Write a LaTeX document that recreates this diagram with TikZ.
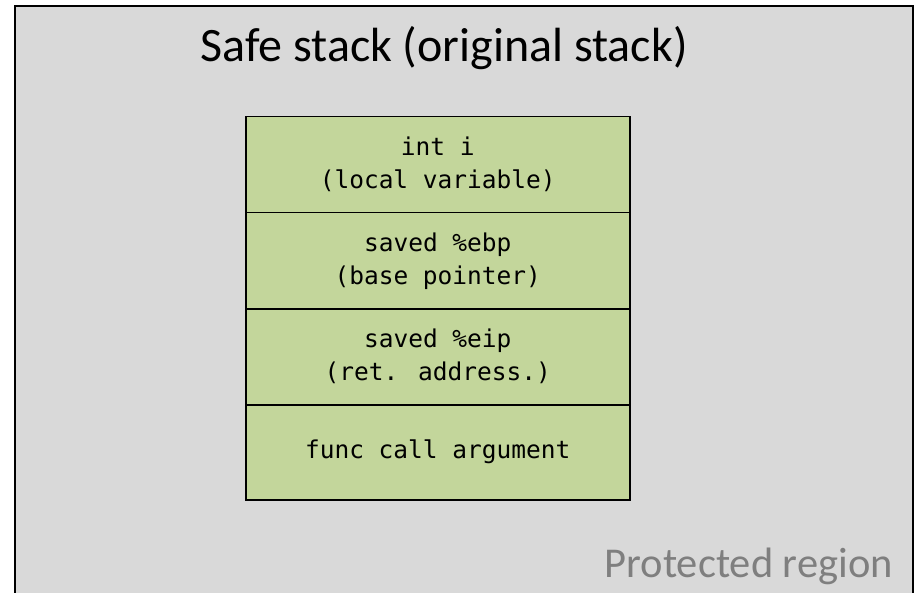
\documentclass[tikz,border=0pt]{standalone}
\usepackage{fontspec}
\setmainfont{Carlito}
\newfontfamily\monofont{DejaVu Sans Mono}
\definecolor{bggray}{HTML}{D9D9D9}
\definecolor{cellgreen}{HTML}{C3D69B}
\definecolor{labelgray}{HTML}{7F7F7F}
\begin{document}
\begin{tikzpicture}[x=1pt,y=-1pt,
  cell/.style={draw=black, line width=1.5pt, fill=cellgreen, minimum width=384pt, minimum height=96pt, inner sep=0pt, align=center, font=\monofont\fontsize{24.5}{33}\selectfont, anchor=north west}]
\useasboundingbox (0,0) rectangle (917,593);
\begin{scope}
\clip (0,0) rectangle (917,593);
\draw[fill=bggray, line width=2pt] (15,6) rectangle (913,620);
\end{scope}
\node[anchor=base, inner sep=0pt] (title) at (444,62) {\fontsize{48}{54}\selectfont Safe stack (original stack)};
\node[cell] (c1) at (245,116) {int i\\(local variable)};
\node[cell] (c2) at (245,212) {saved \%ebp\\(base pointer)};
\node[cell] (c3) at (245,308) {saved \%eip\\(ret. address.)};
\node[cell, minimum height=95pt] (c4) at (245,404) {func call argument};
\node[anchor=base east, text=labelgray, inner sep=0pt] (prot) at (893,577) {\fontsize{42.5}{48}\selectfont Protected region};
\end{tikzpicture}
\end{document}
